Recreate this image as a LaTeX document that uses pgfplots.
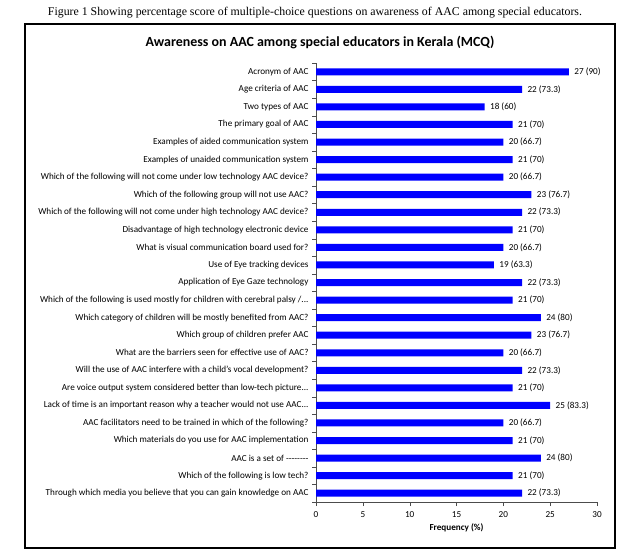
\documentclass[border=0pt]{standalone}
\usepackage{pgfplots}
\pgfplotsset{compat=1.18}
\usepackage{pgfplotstable}
\usepackage{fontspec}
\setmainfont{Carlito}
\newfontfamily\capfont{Liberation Serif}
\definecolor{barblue}{RGB}{0,0,255}

\pgfplotstableread[col sep=semicolon]{
idx;val;lab;q
0;27;27 (90);Acronym of AAC
1;22;22 (73.3);Age criteria of AAC
2;18;18 (60);Two types of AAC
3;21;21 (70);The primary goal of AAC
4;20;20 (66.7);Examples of aided communication system
5;21;21 (70);Examples of unaided communication system
6;20;20 (66.7);Which of the following will not come under low technology AAC device?
7;23;23 (76.7);Which of the following group will not use AAC?
8;22;22 (73.3);Which of the following will not come under high technology AAC device?
9;21;21 (70);Disadvantage of high technology electronic device
10;20;20 (66.7);What is visual communication board used for?
11;19;19 (63.3);Use of Eye tracking devices
12;22;22 (73.3);Application of Eye Gaze technology
13;21;21 (70);Which of the following is used mostly for children with cerebral palsy /...
14;24;24 (80);Which category of children will be mostly benefited from AAC?
15;23;23 (76.7);Which group of children prefer AAC
16;20;20 (66.7);What are the barriers seen for effective use of AAC?
17;22;22 (73.3);Will the use of AAC interfere with a child's vocal development?
18;21;21 (70);Are voice output system considered better than low-tech picture...
19;25;25 (83.3);Lack of time is an important reason why a teacher would not use AAC...
20;20;20 (66.7);AAC facilitators need to be trained in which of the following?
21;21;21 (70);Which materials do you use for AAC implementation
22;24;24 (80);AAC is a set of -{}-{}-{}-{}-{}-{}-{}-
23;21;21 (70);Which of the following is low tech?
24;22;22 (73.3);Through which media you believe that you can gain knowledge on AAC
}\datatable

\begin{document}
\begin{tikzpicture}
\useasboundingbox (0,0) rectangle (635bp,-557bp);
% caption and frame
\node at (315bp,-13bp) {\resizebox{534bp}{!}{\capfont\fontsize{10}{12}\selectfont Figure 1 Showing percentage score of multiple-choice questions on awareness of AAC among special educators.}};
\draw[line width=1.6bp] (25bp,-24bp) rectangle (615bp,-548bp);
\node at (320bp,-43bp) {\fontsize{14}{16}\selectfont\bfseries Awareness on AAC among special educators in Kerala (MCQ)};
\begin{axis}[
    at={(316bp,-502bp)}, anchor=south west,
    scale only axis, width=281bp, height=439bp,
    xbar, bar width=7bp,
    xmin=0, xmax=30,
    ymin=-0.5, ymax=24.5,
    y dir=reverse,
    axis lines=left,
    axis line style={-, black!70},
    xtick={0,5,...,30},
    ytick=data,
    yticklabels from table={\datatable}{q},
    minor ytick={-0.5,0.5,...,24.5},
    major tick length=4bp,
    minor tick length=4bp,
    tick style={black!70},
    major y tick style={draw=none},
    tick align=outside,
    xtick pos=bottom, ytick pos=left,
    yticklabel style={font=\fontsize{9.2}{10}\selectfont, xshift=0bp},
    xticklabel style={font=\fontsize{9.2}{10}\selectfont, yshift=-2bp},
    /pgf/number format/assume math mode=true,
    xlabel={\bfseries Frequency (\%)},
    xlabel style={font=\fontsize{9.2}{10}\selectfont, yshift=1bp},
    nodes near coords,
    point meta=explicit symbolic,
    every node near coord/.append style={font=\fontsize{9.2}{10}\selectfont, anchor=west, xshift=2bp},
]
\addplot[fill=barblue, draw=none] table[x=val, y=idx, meta=lab] {\datatable};
\end{axis}
\end{tikzpicture}
\end{document}
